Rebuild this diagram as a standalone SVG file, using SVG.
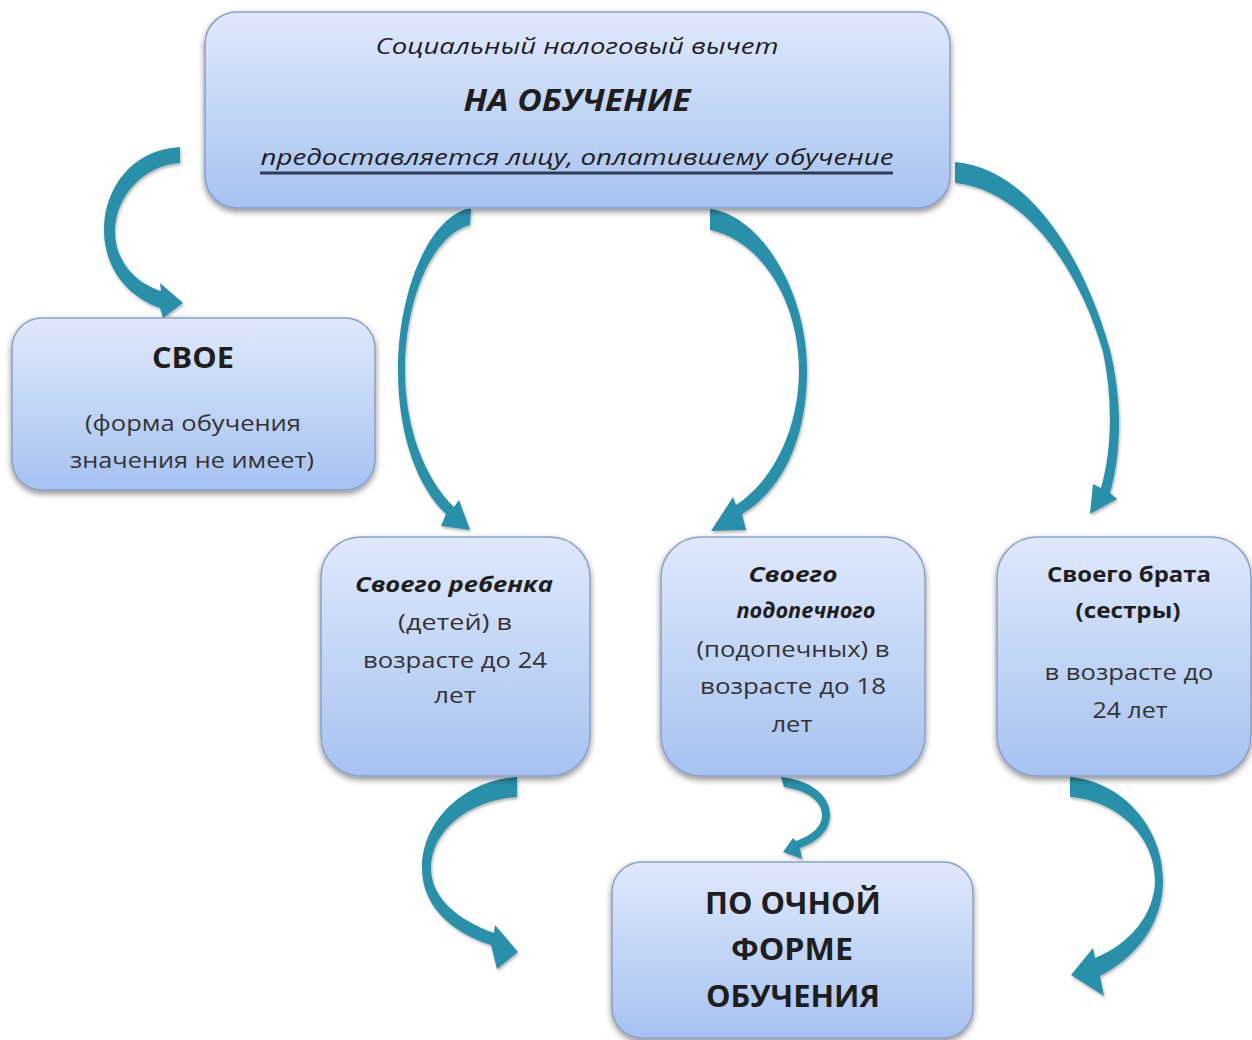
<svg xmlns="http://www.w3.org/2000/svg" width="1252" height="1040" viewBox="0 0 1252 1040">
<defs>
<linearGradient id="bg" x1="0" y1="0" x2="0" y2="1">
<stop offset="0" stop-color="#dfe9fc"/>
<stop offset="1" stop-color="#a7c2f1"/>
</linearGradient>
<filter id="sh" x="-10%" y="-10%" width="120%" height="125%">
<feGaussianBlur in="SourceAlpha" stdDeviation="3"/>
<feOffset dx="0" dy="3" result="b"/>
<feComponentTransfer><feFuncA type="linear" slope="0.45"/></feComponentTransfer>
<feMerge><feMergeNode/><feMergeNode in="SourceGraphic"/></feMerge>
</filter>
<filter id="ash" x="-20%" y="-20%" width="140%" height="140%">
<feGaussianBlur in="SourceAlpha" stdDeviation="1.5"/>
<feOffset dx="1" dy="2"/>
<feComponentTransfer><feFuncA type="linear" slope="0.3"/></feComponentTransfer>
<feMerge><feMergeNode/><feMergeNode in="SourceGraphic"/></feMerge>
</filter>
</defs>
<style>
.box{fill:url(#bg);stroke:#8a9fc6;stroke-width:1.5;filter:url(#sh)}
.arr{fill:#2b8fa9;filter:url(#ash)}
text{font-family:"Open Sans","Noto Sans","Liberation Sans",sans-serif;fill:#1e1e1e;text-anchor:middle}
.it{font-style:italic}
.b{font-weight:bold}
.r{fill:#333333}
</style>
<rect width="1252" height="1040" fill="#ffffff"/>
<g id="connectors">
<path class="arr" d="M180,147 C130,150 104,190 104,230 C104,270 130,298 160,308 L163,318 L183,303 L160,283 L161,291 C135,283 115,260 115,232 C115,195 145,165 180,163 Z"/>
<path class="arr" d="M471,208 C430,215 398,290 398,370 C398,440 420,490 446,514 L441,526 L470,530 L459,500 L454,507 C426,480 405,430 405,370 C405,300 432,235 470,225 Z"/>
<path class="arr" d="M710,209 C760,215 807,290 807,370 C807,440 782,490 742,514 L746,530 L711,531 L733,497 L736,505 C772,482 799,430 799,370 C799,300 760,240 710,230 Z"/>
<path class="arr" d="M955,162 C1030,168 1085,260 1110,350 C1122,400 1122,450 1110,493 L1117,499 L1090,514 L1093,484 L1101,488 C1112,450 1113,400 1103,352 C1080,270 1025,190 955,183 Z"/>
<path class="arr" d="M517,777 C465,780 422,820 422,868 C422,905 450,932 491,945 L497,969 L518,952 L495,925 L494,933 C458,920 431,898 431,868 C431,830 470,800 517,797 Z"/>
<path class="arr" d="M781,777 C810,780 830,795 830,815 C830,832 815,843 800,848 L802,859 L783,852 L793,838 L796,841 C810,836 822,828 822,815 C822,800 805,790 784,787 Z"/>
<path class="arr" d="M1070,777 C1125,782 1163,830 1163,880 C1163,925 1135,958 1100,976 L1104,996 L1071,975 L1093,948 L1095,958 C1128,945 1155,915 1155,880 C1155,835 1115,800 1070,797 Z"/>
</g>
<g id="n-top">
<rect class="box" x="205" y="12" width="745" height="196" rx="32"/>
<text class="it" x="577" y="54" font-size="21.5" textLength="403" lengthAdjust="spacingAndGlyphs">Социальный налоговый вычет</text>
<text class="it b" x="577" y="111" font-size="31" textLength="227" lengthAdjust="spacingAndGlyphs">НА ОБУЧЕНИЕ</text>
<text class="it" x="577" y="165" font-size="21.5" textLength="633" lengthAdjust="spacingAndGlyphs">предоставляется лицу, оплатившему обучение</text>
<line x1="260" y1="173" x2="893" y2="173" stroke="#2d3a58" stroke-width="3"/>
</g>
<g id="n-svoe">
<rect class="box" x="12" y="318" width="363" height="172" rx="30"/>
<text class="b" x="193" y="368" font-size="28" textLength="82" lengthAdjust="spacingAndGlyphs">СВОЕ</text>
<text class="r" x="193" y="431" font-size="22" textLength="216" lengthAdjust="spacingAndGlyphs">(форма обучения</text>
<text class="r" x="192" y="468" font-size="22" textLength="244" lengthAdjust="spacingAndGlyphs">значения не имеет)</text>
</g>
<g id="n-child">
<rect class="box" x="321" y="537" width="269" height="239" rx="40"/>
<text class="it b" x="454" y="592" font-size="22" textLength="198" lengthAdjust="spacingAndGlyphs">Своего ребенка</text>
<text class="r" x="455" y="630" font-size="22" textLength="114" lengthAdjust="spacingAndGlyphs">(детей) в</text>
<text class="r" x="455" y="668" font-size="22" textLength="184" lengthAdjust="spacingAndGlyphs">возрасте до 24</text>
<text class="r" x="455" y="703" font-size="22" textLength="42" lengthAdjust="spacingAndGlyphs">лет</text>
</g>
<g id="n-ward">
<rect class="box" x="661" y="537" width="264" height="239" rx="40"/>
<text class="it b" x="793" y="582" font-size="22" textLength="89" lengthAdjust="spacingAndGlyphs">Своего</text>
<text class="it b" x="806" y="618" font-size="22" textLength="139" lengthAdjust="spacingAndGlyphs">подопечного</text>
<text class="r" x="793" y="657" font-size="22" textLength="193" lengthAdjust="spacingAndGlyphs">(подопечных) в</text>
<text class="r" x="793" y="694" font-size="22" textLength="186" lengthAdjust="spacingAndGlyphs">возрасте до 18</text>
<text class="r" x="792" y="732" font-size="22" textLength="41" lengthAdjust="spacingAndGlyphs">лет</text>
</g>
<g id="n-sibling">
<rect class="box" x="997" y="537" width="254" height="239" rx="40"/>
<text class="b" x="1129" y="582" font-size="22" textLength="164" lengthAdjust="spacingAndGlyphs">Своего брата</text>
<text class="b" x="1128" y="618" font-size="22" textLength="105" lengthAdjust="spacingAndGlyphs">(сестры)</text>
<text class="r" x="1129" y="680" font-size="22" textLength="169" lengthAdjust="spacingAndGlyphs">в возрасте до</text>
<text class="r" x="1130" y="718" font-size="22" textLength="75" lengthAdjust="spacingAndGlyphs">24 лет</text>
</g>
<g id="n-fulltime">
<rect class="box" x="612" y="862" width="361" height="176" rx="30"/>
<text class="b" x="793" y="914" font-size="30" textLength="176" lengthAdjust="spacingAndGlyphs">ПО ОЧНОЙ</text>
<text class="b" x="792" y="960" font-size="30" textLength="122" lengthAdjust="spacingAndGlyphs">ФОРМЕ</text>
<text class="b" x="793" y="1007" font-size="30" textLength="174" lengthAdjust="spacingAndGlyphs">ОБУЧЕНИЯ</text>
</g>
</svg>
